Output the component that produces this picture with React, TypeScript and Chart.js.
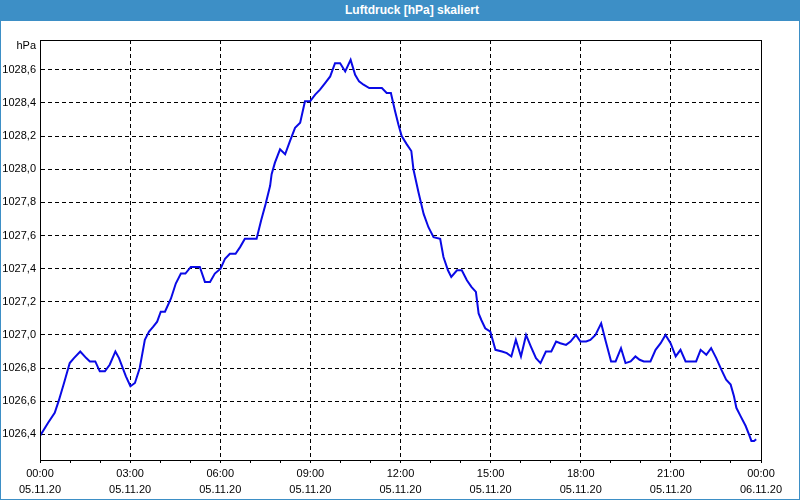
import React, { useEffect, useRef } from "react";
import { Chart, registerables } from "chart.js";

Chart.register(...registerables);

const TITLE = "Luftdruck [hPa] skaliert";
const UNIT = "hPa";

const hours = [0, 0.27, 0.49, 0.62, 0.8, 0.99, 1.13, 1.34, 1.54, 1.66, 1.84, 1.99, 2.16, 2.32, 2.51, 2.63, 2.86, 3.01, 3.16, 3.32, 3.49, 3.63, 3.77, 3.9, 4.02, 4.16, 4.36, 4.52, 4.69, 4.84, 5.02, 5.32, 5.49, 5.66, 5.82, 6.01, 6.16, 6.32, 6.51, 6.66, 6.82, 7.04, 7.21, 7.36, 7.51, 7.66, 7.71, 7.82, 7.99, 8.16, 8.32, 8.49, 8.66, 8.82, 8.99, 9.16, 9.32, 9.49, 9.66, 9.82, 9.99, 10.16, 10.34, 10.49, 10.62, 10.77, 10.96, 11.38, 11.54, 11.68, 11.82, 11.93, 12.04, 12.21, 12.36, 12.43, 12.6, 12.77, 12.93, 13.1, 13.32, 13.43, 13.58, 13.69, 13.88, 14.04, 14.21, 14.36, 14.51, 14.6, 14.69, 14.82, 14.99, 15.16, 15.38, 15.54, 15.69, 15.84, 16.01, 16.18, 16.34, 16.51, 16.66, 16.84, 17.02, 17.18, 17.32, 17.51, 17.66, 17.84, 17.99, 18.18, 18.32, 18.49, 18.68, 18.82, 19.01, 19.16, 19.34, 19.49, 19.66, 19.82, 19.96, 20.1, 20.32, 20.49, 20.66, 20.82, 20.99, 21.16, 21.32, 21.49, 21.71, 21.84, 21.99, 22.18, 22.34, 22.51, 22.68, 22.84, 22.99, 23.1, 23.18, 23.32, 23.49, 23.6, 23.68, 23.77, 23.84];

const pressure = [1026.39, 1026.47, 1026.53, 1026.6, 1026.71, 1026.83, 1026.86, 1026.9, 1026.86, 1026.84, 1026.84, 1026.78, 1026.78, 1026.82, 1026.9, 1026.86, 1026.75, 1026.69, 1026.71, 1026.8, 1026.97, 1027.02, 1027.05, 1027.08, 1027.14, 1027.14, 1027.22, 1027.31, 1027.37, 1027.37, 1027.41, 1027.41, 1027.32, 1027.32, 1027.37, 1027.4, 1027.46, 1027.49, 1027.49, 1027.53, 1027.58, 1027.58, 1027.58, 1027.69, 1027.79, 1027.9, 1027.97, 1028.04, 1028.12, 1028.09, 1028.17, 1028.25, 1028.28, 1028.41, 1028.41, 1028.45, 1028.48, 1028.52, 1028.56, 1028.64, 1028.64, 1028.59, 1028.66, 1028.57, 1028.53, 1028.51, 1028.49, 1028.49, 1028.46, 1028.46, 1028.35, 1028.27, 1028.2, 1028.15, 1028.11, 1028.0, 1027.86, 1027.73, 1027.65, 1027.59, 1027.58, 1027.47, 1027.39, 1027.35, 1027.39, 1027.39, 1027.33, 1027.29, 1027.26, 1027.13, 1027.09, 1027.04, 1027.02, 1026.91, 1026.9, 1026.89, 1026.87, 1026.97, 1026.87, 1027.0, 1026.93, 1026.86, 1026.83, 1026.9, 1026.9, 1026.96, 1026.95, 1026.94, 1026.96, 1027.0, 1026.96, 1026.96, 1026.97, 1027.0, 1027.07, 1026.97, 1026.84, 1026.84, 1026.92, 1026.83, 1026.84, 1026.87, 1026.85, 1026.84, 1026.84, 1026.91, 1026.95, 1027.0, 1026.95, 1026.87, 1026.91, 1026.84, 1026.84, 1026.84, 1026.91, 1026.88, 1026.92, 1026.86, 1026.79, 1026.73, 1026.7, 1026.63, 1026.56, 1026.51, 1026.45, 1026.4, 1026.36, 1026.36, 1026.37];

const tickTimes = ["00:00", "03:00", "06:00", "09:00", "12:00", "15:00", "18:00", "21:00", "00:00"];
const tickDates = ["05.11.20", "05.11.20", "05.11.20", "05.11.20", "05.11.20", "05.11.20", "05.11.20", "05.11.20", "06.11.20"];

const Y_MIN = 1026.245;
const Y_MAX = 1028.78;

const FONT = "'Liberation Sans', Arial, sans-serif";
const BLUE = "#3d8fc6";
const DASH = [4, 3];

export default function App() {
  const ref = useRef<HTMLCanvasElement>(null);

  useEffect(() => {
    if (!ref.current) return;
    const framePlugin = {
      id: "frame",
      afterDraw(chart: any) {
        const { ctx, chartArea } = chart;
        ctx.save();
        ctx.strokeStyle = "#000";
        ctx.lineWidth = 1;
        ctx.setLineDash([]);
        ctx.strokeRect(
          Math.round(chartArea.left) + 0.5,
          Math.round(chartArea.top) + 0.5,
          Math.round(chartArea.right - chartArea.left),
          Math.round(chartArea.bottom - chartArea.top)
        );
        ctx.fillStyle = "#000";
        ctx.font = `11px ${FONT}`;
        ctx.textAlign = "right";
        ctx.textBaseline = "middle";
        ctx.fillText(UNIT, chartArea.left - 4, chartArea.top + 6);
        ctx.restore();
      },
    };

    const chart = new Chart(ref.current, {
      type: "line",
      data: {
        datasets: [
          {
            data: hours.map((h, i) => ({ x: h, y: pressure[i] })),
            borderColor: "#0a0ae6",
            borderWidth: 2,
            pointRadius: 0,
            tension: 0,
            fill: false,
          },
        ],
      },
      options: {
        animation: false,
        responsive: false,
        maintainAspectRatio: false,
        layout: { padding: { left: 0, top: 19, right: 38, bottom: 0 } },
        plugins: { legend: { display: false }, tooltip: { enabled: false }, title: { display: false } },
        scales: {
          x: {
            type: "linear",
            min: 0,
            max: 24,
            afterFit(scale: any) {
              scale.height = 39;
            },
            ticks: {
              stepSize: 1,
              autoSkip: false,
              maxRotation: 0,
              padding: 3,
              color: "#000",
              font: { family: FONT, size: 11, lineHeight: 16 / 11 },
              callback: (v: any) => {
                const n = Math.round(Number(v));
                if (n % 3 !== 0) return "";
                const i = n / 3;
                return [tickTimes[i], tickDates[i]];
              },
            },
            grid: {
              color: (c: any) => (Math.round(c.tick?.value ?? 0) % 3 === 0 ? "#000" : "rgba(0,0,0,0)"),
              tickColor: "#000",
              tickLength: 3,
              lineWidth: 1,
              tickWidth: 1,
            },
            border: { display: true, color: "#000", dash: DASH },
          },
          y: {
            type: "linear",
            min: Y_MIN,
            max: Y_MAX,
            afterFit(scale: any) {
              scale.width = 39;
            },
            ticks: {
              stepSize: 0.2,
              includeBounds: false,
              padding: 4,
              color: "#000",
              font: { family: FONT, size: 11 },
              callback: (v: any) => Number(v).toFixed(1).replace(".", ","),
            },
            grid: { color: "#000", drawTicks: false, lineWidth: 1 },
            border: { display: true, color: "#000", dash: DASH },
          },
        },
      } as any,
      plugins: [framePlugin],
    });
    return () => chart.destroy();
  }, []);

  return (
    <div
      style={{
        position: "absolute",
        left: 0,
        top: 0,
        width: 800,
        height: 500,
        background: "#fff",
        boxSizing: "border-box",
        border: `1px solid ${BLUE}`,
        fontFamily: FONT,
      }}
    >
      <div
        style={{
          position: "absolute",
          left: -1,
          top: -1,
          width: 800,
          height: 21,
          background: BLUE,
          color: "#fff",
          fontWeight: "bold",
          fontSize: 12,
          lineHeight: "21px",
          textAlign: "center",
          boxSizing: "border-box",
          paddingLeft: 24,
        }}
      >
        {TITLE}
      </div>
      <canvas ref={ref} width={798} height={478} style={{ position: "absolute", left: 0, top: 20, display: "block" }} />
    </div>
  );
}
